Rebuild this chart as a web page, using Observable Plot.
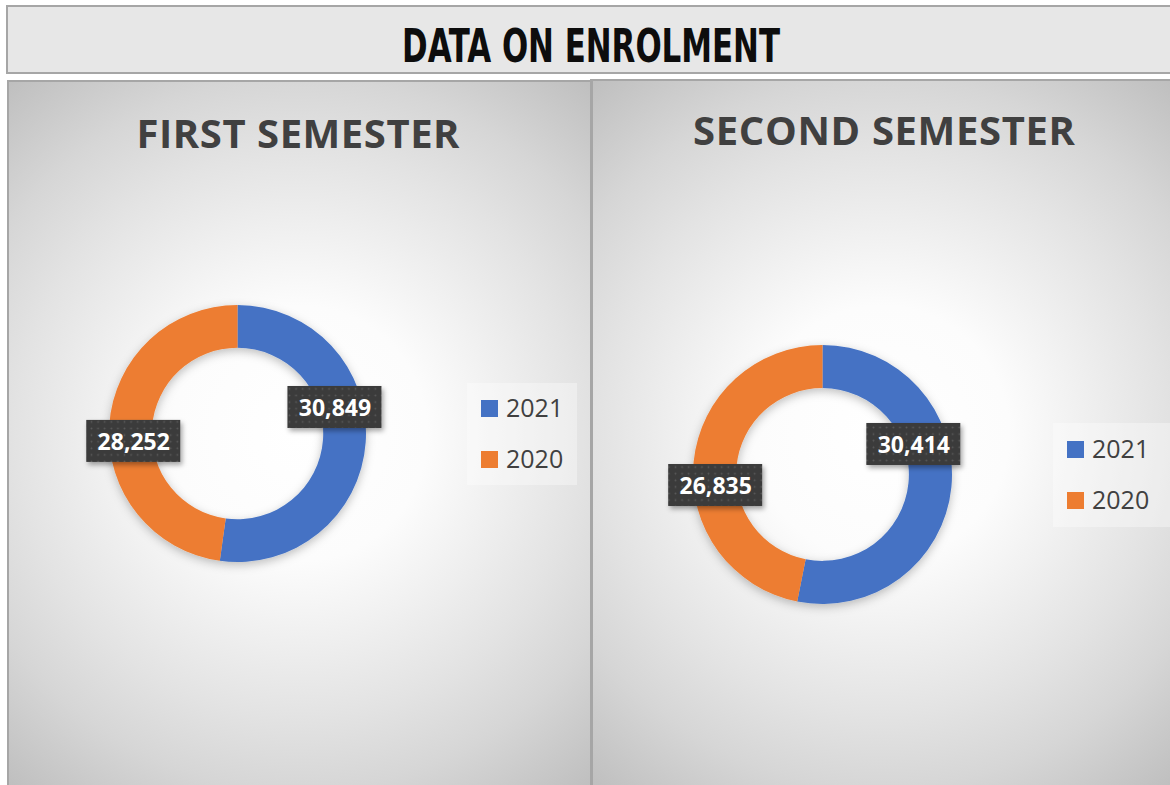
<!DOCTYPE html>
<html>
<head>
<meta charset="utf-8">
<script src="https://cdn.jsdelivr.net/npm/d3@7"></script>
<script src="https://cdn.jsdelivr.net/npm/@observablehq/plot@0.6"></script>
<style>
  html, body { margin: 0; padding: 0; background: #ffffff; }
  body { width: 1170px; height: 785px; overflow: hidden; position: relative; font-family: "Open Sans", sans-serif; }
  #banner { position: absolute; left: 6px; top: 5px; width: 1180px; height: 65px; border: 2px solid #a6a6a6; background: #e7e7e7; box-sizing: content-box; }
  .panel { position: absolute; overflow: hidden; border-top: 2px solid #a6a6a6; border-left: 2px solid #a6a6a6;
           background: radial-gradient(circle farthest-corner at 50% 50%, #ffffff 0%, #fcfcfc 28%, #e3e3e3 62%, #d6d6d6 78%, #bfbfbf 100%); }
  .legend { position: absolute; background: rgba(255,255,255,0.35); }
  .legend .sw { position: absolute; width: 17px; height: 17px; }
  .legend .lt { position: absolute; font-family: "Open Sans", sans-serif; font-size: 25px; line-height: 25px; color: #404040; white-space: nowrap; }
</style>
</head>
<body>
<div id="banner"></div>
<script>
// ---------------- data ----------------
const bannerTitle = "DATA ON ENROLMENT";
const semesters = ["FIRST SEMESTER", "SECOND SEMESTER"];
const years = ["2021", "2020"];
const colors = ["#4472C4", "#ED7D31"];
const enrolment2021 = [30849, 30414];
const enrolment2020 = [28252, 26835];

// ---------------- layout (positions / sizes only) ----------------
const holeRatio = 0.667;
const layout = [
  {left: 7, top: 80, bl: 2, W: 581, H: 703, mL: 100, mR: 224, mT: 223, mB: 223,
   titleDx: 60, titleDy: -157.5, titleW: 323,
   nudges: [[-9.9, -33.9], [2.6, 14.8]],
   legend: {left: 467, top: 383, w: 110, h: 102, sx: 481, sy: 400, tx: 506, gap: 51}},
  {left: 590, top: 79, bl: 3, W: 577, H: 704, mL: 100, mR: 218, mT: 264, mB: 181,
   titleDx: 61, titleDy: -201, titleW: 382,
   nudges: [[-16.6, -41.1], [0.1, 21.1]],
   legend: {left: 1053, top: 423, w: 125, h: 104, sx: 1067, sy: 441, tx: 1092, gap: 51}}
];

const color = Plot.scale({color: {type: "ordinal", domain: years, range: colors}});
const fmt = d3.format(",");

// ---------------- banner ----------------
{
  const svg = d3.select("#banner").append("svg").attr("width", 1180).attr("height", 65).style("display", "block");
  svg.append("text")
    .attr("x", 394).attr("y", 55)
    .attr("textLength", 378).attr("lengthAdjust", "spacingAndGlyphs")
    .attr("font-family", "'Liberation Sans Narrow', 'DejaVu Sans Condensed', 'DejaVu Sans', sans-serif")
    .attr("font-weight", "bold").attr("font-size", 47).attr("fill", "#0d0d0d")
    .text(bannerTitle);
}

// ---------------- custom marks ----------------
function donutMark(slices, id) {
  return (index, scales) => {
    const cx = scales.x(0), cy = scales.y(0);
    const R = Math.abs(scales.x(1) - scales.x(0));
    const arc = d3.arc().innerRadius(R * holeRatio).outerRadius(R);
    const g = d3.create("svg:g");
    const f = g.append("defs").append("filter").attr("id", id + "-dsh")
      .attr("x", "-30%").attr("y", "-30%").attr("width", "160%").attr("height", "160%");
    f.append("feDropShadow").attr("dx", 0).attr("dy", 3).attr("stdDeviation", 5)
      .attr("flood-color", "#000").attr("flood-opacity", 0.25);
    g.append("g").attr("transform", `translate(${cx},${cy})`).attr("filter", `url(#${id}-dsh)`)
      .selectAll("path").data(slices).join("path")
      .attr("d", arc).attr("fill", d => color.apply(d.data.year));
    return g.node();
  };
}

function labelBoxMark(labels, nudges, id) {
  return (index, scales) => {
    const g = d3.create("svg:g");
    const defs = g.append("defs");
    const p = defs.append("pattern").attr("id", id + "-dots").attr("patternUnits", "userSpaceOnUse")
      .attr("width", 6.6).attr("height", 6.6);
    p.append("rect").attr("width", 6.6).attr("height", 6.6).attr("fill", "#3b3b3b");
    p.append("circle").attr("cx", 3.3).attr("cy", 3.3).attr("r", 0.9).attr("fill", "#595959");
    const f = defs.append("filter").attr("id", id + "-bsh")
      .attr("x", "-20%").attr("y", "-30%").attr("width", "150%").attr("height", "180%");
    f.append("feDropShadow").attr("dx", 2).attr("dy", 3).attr("stdDeviation", 2.5)
      .attr("flood-color", "#000").attr("flood-opacity", 0.35);
    const bw = 94, bh = 42;
    g.selectAll("rect.box").data(labels).join("rect").attr("class", "box")
      .attr("x", (d, i) => scales.x(d.x) + nudges[i][0] - bw / 2)
      .attr("y", (d, i) => scales.y(d.y) + nudges[i][1] - bh / 2)
      .attr("width", bw).attr("height", bh)
      .attr("fill", `url(#${id}-dots)`).attr("filter", `url(#${id}-bsh)`);
    return g.node();
  };
}

// ---------------- panels ----------------
semesters.forEach((sem, i) => {
  const L = layout[i];
  const rows = years.map((yr, j) => ({year: yr, value: j === 0 ? enrolment2021[i] : enrolment2020[i]}));
  const slices = d3.pie().sort(null).value(d => d.value)(rows);
  const unitArc = d3.arc().innerRadius(holeRatio).outerRadius(1);
  const labels = slices.map(s => {
    const c = unitArc.centroid(s);
    return {x: c[0], y: -c[1], label: fmt(s.data.value), year: s.data.year};
  });

  const panel = d3.select("body").append("div").attr("class", "panel")
    .style("left", L.left + "px").style("top", L.top + "px")
    .style("width", L.W + "px").style("height", L.H + "px")
    .style("border-left-width", L.bl + "px");

  const textMarks = labels.map((d, k) => Plot.text([d], {
    x: "x", y: "y", text: "label",
    dx: L.nudges[k][0], dy: L.nudges[k][1] + 1,
    fill: "#ffffff", fontSize: 23, fontWeight: "bold",
    fontFamily: "'Open Sans', sans-serif", lineAnchor: "middle"
  }));

  const chart = Plot.plot({
    width: L.W, height: L.H,
    marginLeft: L.mL, marginRight: L.mR, marginTop: L.mT, marginBottom: L.mB,
    x: {domain: [-1, 1], axis: null},
    y: {domain: [-1, 1], axis: null},
    style: {background: "transparent", overflow: "visible"},
    marks: [
      donutMark(slices, "p" + i),
      labelBoxMark(labels, L.nudges, "p" + i),
      ...textMarks,
      Plot.text([sem], {
        frameAnchor: "top", dx: L.titleDx, dy: L.titleDy, lineAnchor: "bottom",
        fontSize: 40, fontWeight: "bold", fill: "#404040",
        fontFamily: "'Open Sans', sans-serif"
      })
    ]
  });
  panel.node().appendChild(chart);
  d3.select(chart).selectAll("text").filter(function() { return this.textContent === sem; })
    .attr("textLength", L.titleW).attr("lengthAdjust", "spacing");

  // legend
  const lg = L.legend;
  const leg = d3.select("body").append("div").attr("class", "legend")
    .style("left", lg.left + "px").style("top", lg.top + "px")
    .style("width", lg.w + "px").style("height", lg.h + "px");
  years.forEach((yr, j) => {
    leg.append("div").attr("class", "sw")
      .style("left", (lg.sx - lg.left) + "px").style("top", (lg.sy - lg.top + j * lg.gap) + "px")
      .style("background", color.apply(yr));
    leg.append("div").attr("class", "lt")
      .style("left", (lg.tx - lg.left) + "px").style("top", (lg.sy - lg.top + j * lg.gap - 5.2) + "px")
      .text(yr);
  });
});
</script>
</body>
</html>
